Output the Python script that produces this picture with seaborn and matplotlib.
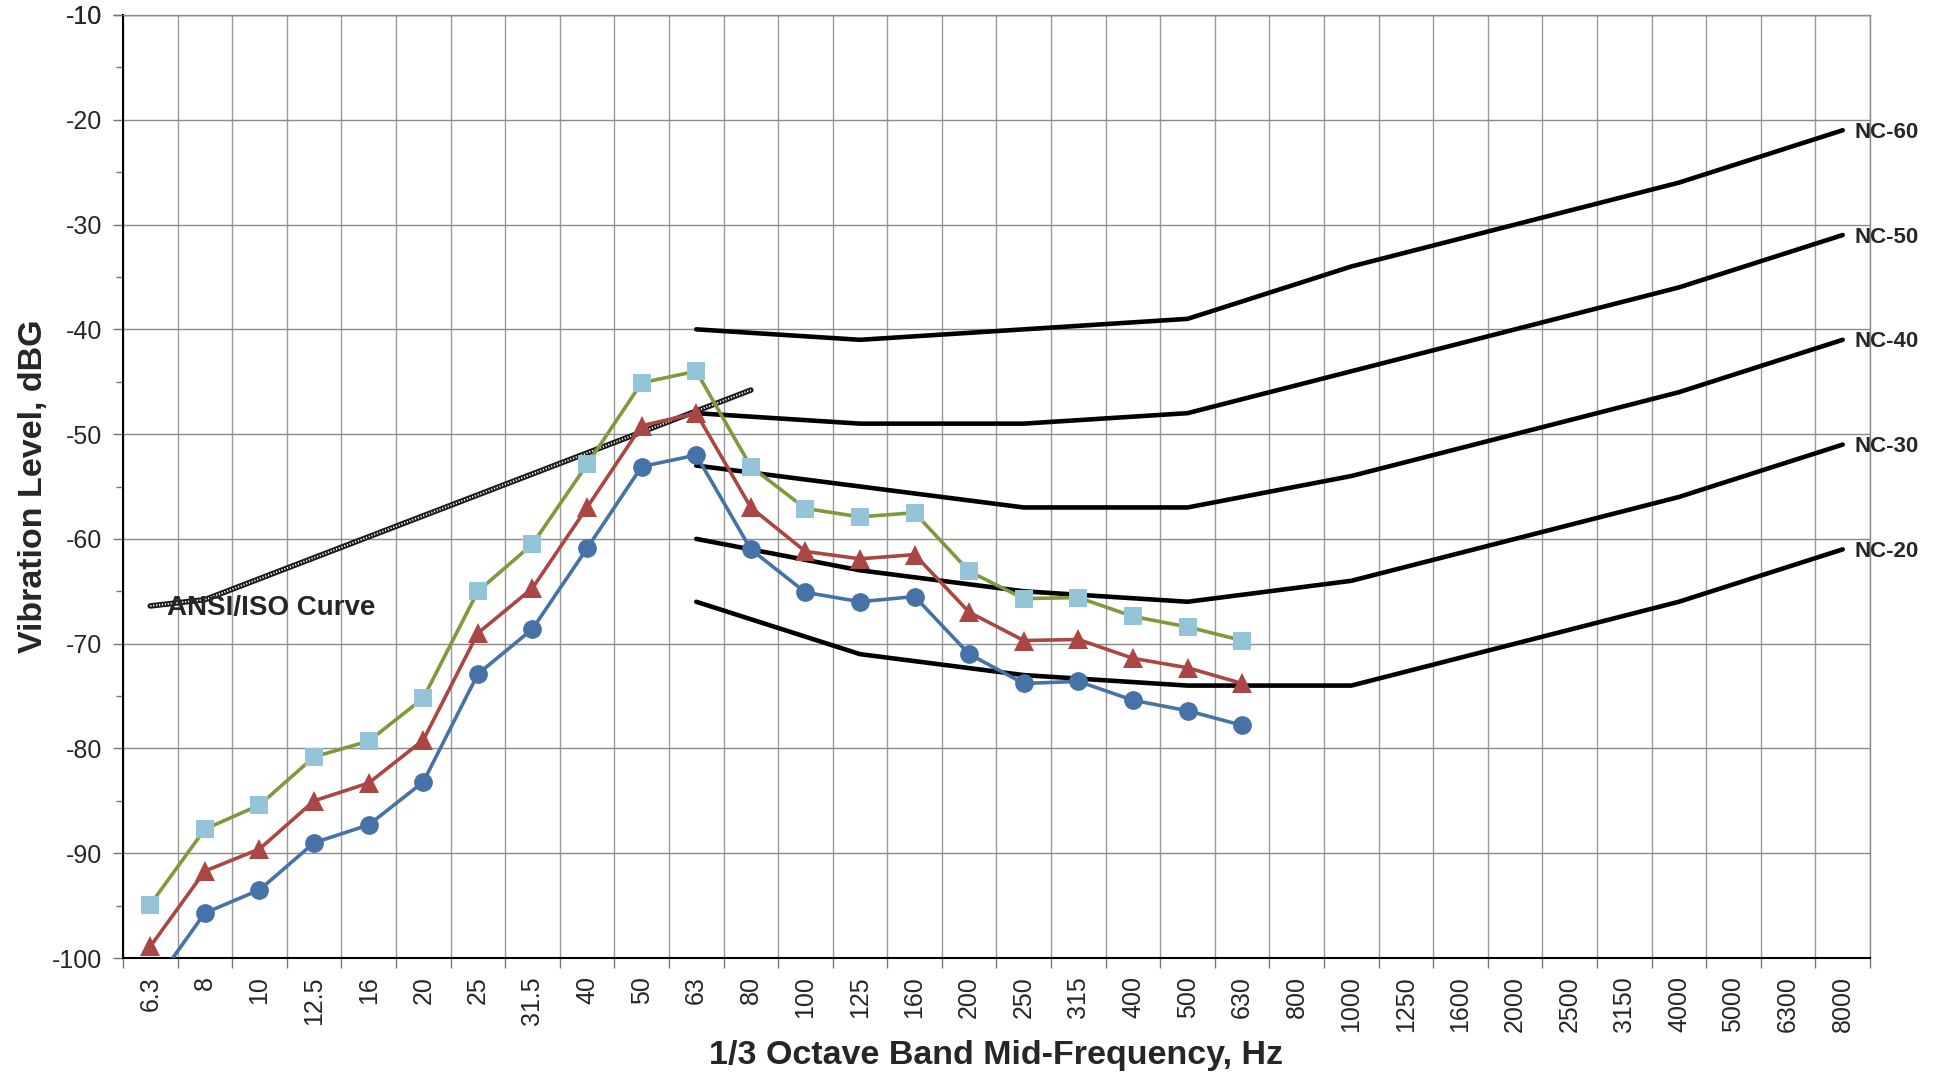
import numpy as np
import pandas as pd
import matplotlib
matplotlib.use("Agg")
import matplotlib.pyplot as plt
import seaborn as sns
from matplotlib.ticker import FixedLocator, MultipleLocator

# ---------------- data ----------------
freq_labels = ["6.3", "8", "10", "12.5", "16", "20", "25", "31.5", "40", "50", "63",
               "80", "100", "125", "160", "200", "250", "315", "400", "500", "630",
               "800", "1000", "1250", "1600", "2000", "2500", "3150", "4000", "5000",
               "6300", "8000"]

series_freqs = ["6.3", "8", "10", "12.5", "16", "20", "25", "31.5", "40", "50", "63",
                "80", "100", "125", "160", "200", "250", "315", "400", "500", "630"]
circle_vals = [-103.0, -95.7, -93.5, -89.0, -87.3, -83.2, -72.9, -68.6, -60.9, -53.1, -52.0,
               -61.0, -65.1, -66.0, -65.5, -71.0, -73.8, -73.6, -75.4, -76.4, -77.8]
triangle_vals = [-98.9, -91.7, -89.6, -85.0, -83.3, -79.2, -69.0, -64.7, -57.0, -49.2, -48.0,
                 -57.0, -61.2, -61.9, -61.5, -67.0, -69.7, -69.6, -71.4, -72.3, -73.8]
square_vals = [-94.9, -87.7, -85.4, -80.8, -79.3, -75.2, -65.0, -60.5, -52.9, -45.1, -44.0,
               -53.1, -57.1, -57.9, -57.5, -63.1, -65.7, -65.6, -67.4, -68.4, -69.7]

nc_freqs = ["63", "125", "250", "500", "1000", "2000", "4000", "8000"]
nc_names = ["NC-60", "NC-50", "NC-40", "NC-30", "NC-20"]
nc60 = [-40, -41, -40, -39, -34, -30, -26, -21]
nc50 = [-48, -49, -49, -48, -44, -40, -36, -31]
nc40 = [-53, -55, -57, -57, -54, -50, -46, -41]
nc30 = [-60, -63, -65, -66, -64, -60, -56, -51]
nc20 = [-66, -71, -73, -74, -74, -70, -66, -61]

ansi_freqs = ["6.3", "8", "80"]
ansi_vals = [-66.4, -65.8, -45.8]

y_ticks = list(range(-100, 0, 10))

# ---------------- style ----------------
sns.set_style("white")
plt.rcParams["font.family"] = ["Liberation Sans", "DejaVu Sans"]
plt.rcParams["axes.unicode_minus"] = False

pos = {f: i for i, f in enumerate(freq_labels)}

fig = plt.figure(figsize=(19.4, 10.77), dpi=100)
ax = fig.add_axes([123 / 1940, 1 - 958 / 1077, (1870 - 123) / 1940, (958 - 15) / 1077])

# NC curves
for name, vals in zip(nc_names, [nc60, nc50, nc40, nc30, nc20]):
    df = pd.DataFrame({"x": [pos[f] for f in nc_freqs], "y": vals})
    sns.lineplot(data=df, x="x", y="y", color="black", linewidth=3.3, ax=ax,
                 solid_capstyle="round", zorder=3)
    ax.text(pos["8000"] + 0.22, vals[-1] - 0.2, name, fontsize=16, fontweight="bold",
            ha="left", va="center", clip_on=False, zorder=6)

# ANSI/ISO curve (checkered look)
ax_x = [pos[f] for f in ansi_freqs]
sns.lineplot(x=ax_x, y=ansi_vals, color="#1a1a1a", linewidth=4.0, ax=ax, zorder=4)
sns.lineplot(x=ax_x, y=ansi_vals, color="white", linewidth=1.4, ax=ax, zorder=4.1)
ax.lines[-1].set_linestyle((0, (0.6, 0.9)))
ax.text(0.3, -66.6, "ANSI/ISO Curve", fontsize=20, fontweight="bold",
        ha="left", va="center", zorder=7)

# Measured series
sx = [pos[f] for f in series_freqs]
sns.lineplot(x=sx, y=square_vals, color="#7F9A3C", linewidth=2.6, marker="s",
             markersize=12.5, markeredgewidth=0, ax=ax, zorder=5)
ax.lines[-1].set_markerfacecolor("#93C4D7")
ax.lines[-1].set_markeredgecolor("#93C4D7")
sns.lineplot(x=sx, y=triangle_vals, color="#AA4643", linewidth=2.6, marker="^",
             markersize=14, markeredgewidth=0, ax=ax, zorder=5)
sns.lineplot(x=sx, y=circle_vals, color="#4572A7", linewidth=2.6, marker="o",
             markersize=13.5, markeredgewidth=0, ax=ax, zorder=5)

# ---------------- axes ----------------
ax.set_xlim(-0.5, len(freq_labels) - 0.5)
ax.set_ylim(-100, -10)

ax.xaxis.set_major_locator(FixedLocator(range(len(freq_labels))))
ax.set_xticklabels(freq_labels, rotation=90, fontsize=18)
ax.xaxis.set_minor_locator(FixedLocator(np.arange(-0.5, len(freq_labels), 1.0)))
ax.tick_params(axis="x", which="major", length=0, pad=13)
ax.tick_params(axis="x", which="minor", length=7, color="#777777", width=1, direction="out")

ax.yaxis.set_major_locator(FixedLocator(y_ticks + [-10]))
ax.yaxis.set_minor_locator(MultipleLocator(5))
ax.tick_params(axis="y", which="major", length=7, color="#777777", width=1,
               direction="out", labelsize=18, pad=8)
ax.tick_params(axis="y", which="minor", length=5, color="#777777", width=1, direction="out")
ax.tick_params(left=True, bottom=True, which="both")

ax.grid(True, axis="y", which="major", color="#8a8a8a", linewidth=1.0, zorder=0)
ax.grid(True, axis="x", which="minor", color="#9a9a9a", linewidth=1.0, zorder=0)
ax.grid(False, axis="x", which="major")
ax.set_axisbelow(True)

for side in ["left", "bottom"]:
    ax.spines[side].set_color("black")
    ax.spines[side].set_linewidth(1.5)
for side in ["top", "right"]:
    ax.spines[side].set_color("#8a8a8a")
    ax.spines[side].set_linewidth(1.0)

ax.set_xlabel("1/3 Octave Band Mid-Frequency, Hz", fontsize=24.5, fontweight="bold", labelpad=6)
ax.set_ylabel("Vibration Level, dBG", fontsize=24.5, fontweight="bold", labelpad=2)

fig.savefig("out.png", dpi=100, facecolor="white")
